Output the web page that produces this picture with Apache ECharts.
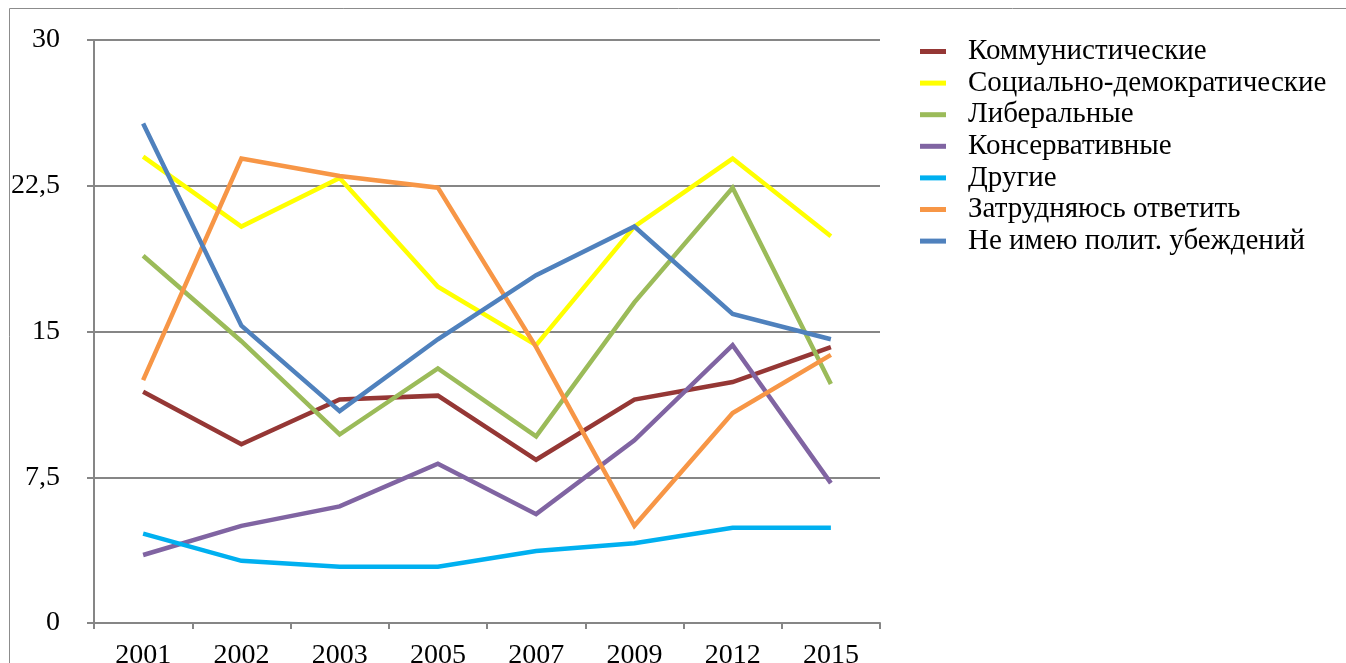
<!DOCTYPE html>
<html>
<head>
<meta charset="utf-8">
<script src="https://cdn.jsdelivr.net/npm/echarts@6/dist/echarts.min.js"></script>
<style>
  html, body { margin: 0; padding: 0; background: #fff; }
  #main { width: 1346px; height: 663px; }
</style>
</head>
<body>
<div id="main"></div>
<script>
// годы опроса
const years = ['2001', '2002', '2003', '2005', '2007', '2009', '2012', '2015'];

// значения по группам (%)
const communist = [11.9, 9.2, 11.5, 11.7, 8.4, 11.5, 12.4, 14.2];
const socdem = [24.0, 20.4, 22.9, 17.3, 14.3, 20.4, 23.9, 19.9];
const liberal = [18.9, 14.5, 9.7, 13.1, 9.6, 16.5, 22.4, 12.3];
const conservative = [3.5, 5.0, 6.0, 8.2, 5.6, 9.4, 14.3, 7.2];
const other = [4.6, 3.2, 2.9, 2.9, 3.7, 4.1, 4.9, 4.9];
const hardToSay = [12.5, 23.9, 23.0, 22.4, 14.2, 5.0, 10.8, 13.8];
const noBeliefs = [25.7, 15.3, 10.9, 14.6, 17.9, 20.4, 15.9, 14.6];

const names = [
  'Коммунистические',
  'Социально-демократические',
  'Либеральные',
  'Консервативные',
  'Другие',
  'Затрудняюсь ответить',
  'Не имею полит. убеждений'
];
const colors = ['#953735', '#FFFF00', '#9BBB59', '#8064A2', '#00B0F0', '#F79646', '#4F81BD'];
const allData = [communist, socdem, liberal, conservative, other, hardToSay, noBeliefs];

const chart = echarts.init(document.getElementById('main'));
const font = '"Liberation Serif", "Times New Roman", serif';

const series = names.map((n, i) => ({
  name: n,
  type: 'line',
  data: allData[i],
  symbol: 'none',
  lineStyle: { width: 4.5, color: colors[i], cap: 'butt', join: 'miter' },
  itemStyle: { color: colors[i] }
}));

const option = {
  animation: false,
  color: colors,
  grid: { left: 94, right: 466, top: 40, bottom: 40, containLabel: false, outerBoundsMode: 'none' },
  graphic: [{
    type: 'rect',
    shape: { x: 9.5, y: 8.5, width: 1400, height: 700 },
    style: { fill: 'none', stroke: '#8c8c8c', lineWidth: 1 },
    silent: true
  }],
  legend: {
    orient: 'vertical',
    left: 915,
    top: 32,
    itemWidth: 26,
    itemHeight: 5,
    itemGap: 2.6,
    icon: 'rect',
    data: names,
    textStyle: {
      fontFamily: font,
      fontSize: 29,
      lineHeight: 29,
      color: '#000',
      padding: [0, 0, 0, 17]
    }
  },
  xAxis: {
    type: 'category',
    data: years,
    boundaryGap: true,
    axisLine: { lineStyle: { color: '#868686', width: 2 } },
    axisTick: { show: true, length: 6, inside: false, alignWithLabel: false, lineStyle: { color: '#868686', width: 2 } },
    axisLabel: { fontFamily: font, fontSize: 28, color: '#000', margin: 19 }
  },
  yAxis: {
    type: 'value',
    min: 0,
    max: 30,
    interval: 7.5,
    axisLine: { show: true, lineStyle: { color: '#868686', width: 2 } },
    axisTick: { show: true, length: 7, lineStyle: { color: '#868686', width: 2 } },
    splitLine: { lineStyle: { color: '#868686', width: 2 } },
    axisLabel: {
      fontFamily: font,
      fontSize: 28,
      color: '#000',
      margin: 34,
      formatter: v => String(v).replace('.', ',')
    }
  },
  series: series
};

chart.setOption(option);
</script>
</body>
</html>
